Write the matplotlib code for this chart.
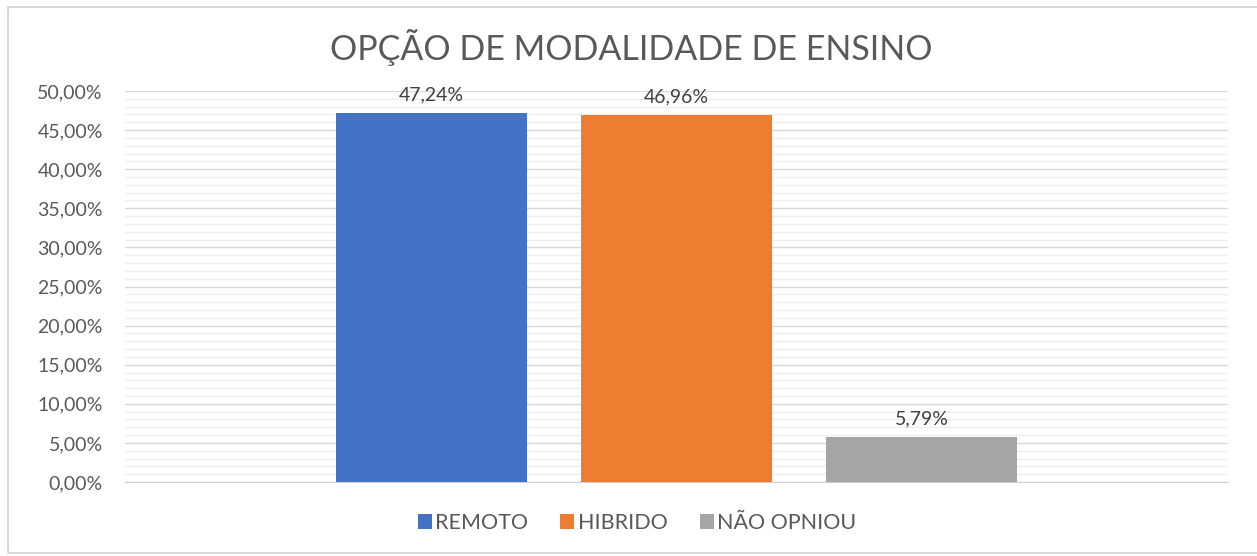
import matplotlib
matplotlib.use("Agg")
import matplotlib.pyplot as plt
from matplotlib.patches import Rectangle
from matplotlib.ticker import MultipleLocator, FuncFormatter

# Survey results: preferred teaching modality (percent of respondents)
series = ["REMOTO", "HIBRIDO", "NÃO OPNIOU"]
values = [47.24, 46.96, 5.79]
colors = ["#4472C4", "#ED7D31", "#A5A5A5"]
title = "OPÇÃO DE MODALIDADE DE ENSINO"

plt.rcParams["font.family"] = ["Lato", "DejaVu Sans"]

W, H = 1257, 556
fig = plt.figure(figsize=(W / 100, H / 100), dpi=100)
fig.patch.set_facecolor("white")

# outer chart frame
fig.patches.append(Rectangle((8 / W, 1 - 553 / H), 1.2, (553 - 7) / H,
                             transform=fig.transFigure, fill=False,
                             edgecolor="#d9d9d9", linewidth=1.5))

left, right, top, bottom = 125, 1228, 91, 482
ax = fig.add_axes([left / W, 1 - bottom / H, (right - left) / W, (bottom - top) / H])

bar_w = 191 / (right - left)
offsets = [-(245 / (right - left)), 0.0, 245 / (right - left)]
for name, v, c, off in zip(series, values, colors, offsets):
    ax.bar(off, v, width=bar_w, color=c, label=name, zorder=3)
    ax.text(off, v + 1.2, f"{v:.2f}%".replace(".", ","), ha="center", va="bottom",
            fontsize=14, color="#404040", zorder=4)

ax.set_xlim(-0.5, 0.5)
ax.set_ylim(0, 50)
ax.yaxis.set_major_locator(MultipleLocator(5))
ax.yaxis.set_minor_locator(MultipleLocator(1))
ax.yaxis.set_major_formatter(FuncFormatter(lambda y, _: f"{y:.2f}%".replace(".", ",")))
ax.grid(axis="y", which="major", color="#d9d9d9", linewidth=1.0, zorder=0)
ax.grid(axis="y", which="minor", color="#eeeeee", linewidth=0.9, zorder=0)
ax.set_xticks([])
for s in ["left", "right", "top"]:
    ax.spines[s].set_visible(False)
ax.spines["bottom"].set_color("#d0d0d0")
ax.tick_params(axis="y", which="both", length=0, labelsize=14, labelcolor="#595959", pad=16)

fig.text(0.5 * (333 + 930) / W, 1 - 47 / H, title, ha="center", va="center",
         fontsize=24.5, color="#595959")

leg = fig.legend(loc="center", bbox_to_anchor=(637 / W, 1 - 523 / H), ncol=3,
                 frameon=False, fontsize=15.5, handlelength=0.65, handleheight=0.65,
                 handletextpad=0.15, columnspacing=1.5)
for t in leg.get_texts():
    t.set_color("#595959")

fig.savefig("out.png", dpi=100, facecolor="white")
